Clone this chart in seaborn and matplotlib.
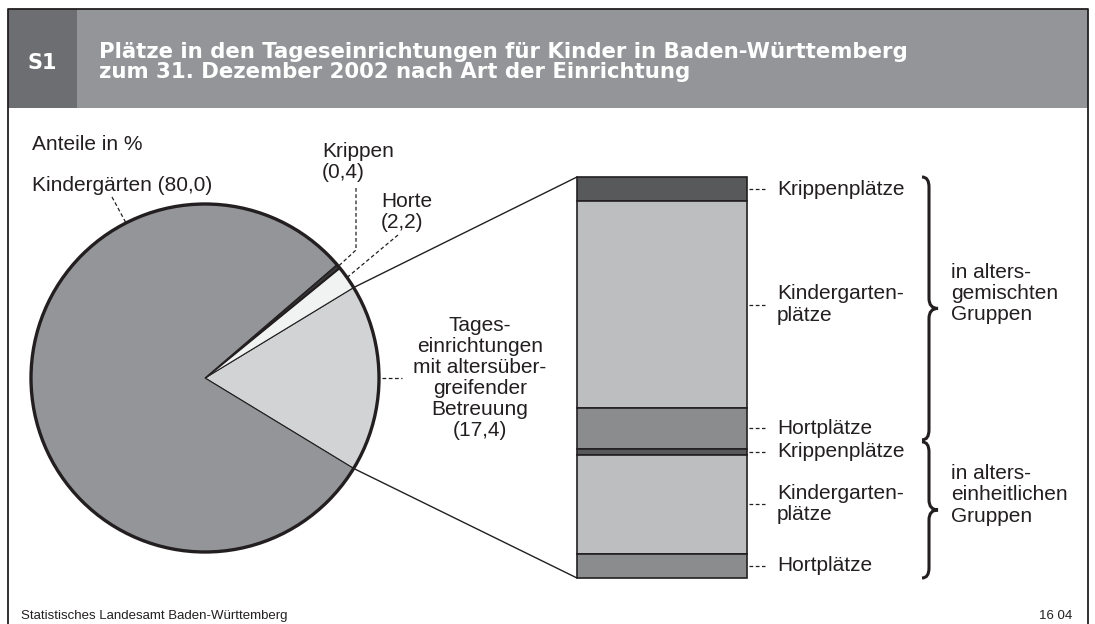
import numpy as np
import matplotlib
matplotlib.use("Agg")
import matplotlib.pyplot as plt
from matplotlib.patches import Rectangle, Circle, PathPatch, ConnectionPatch
from matplotlib.path import Path
import seaborn as sns

# =========================
# Daten
# =========================
title_lines = [
    "Plätze in den Tageseinrichtungen für Kinder in Baden-Württemberg",
    "zum 31. Dezember 2002 nach Art der Einrichtung",
]

# Kreis: Anteile in %
pie_names = ["Tages-\neinrichtungen\nmit altersüber-\ngreifender\nBetreuung", "Horte", "Krippen", "Kindergärten"]
pie_values = [17.4, 2.2, 0.4, 80.0]
pie_colors = ["#d1d3d4", "#f1f2f2", "#3a3a3c", "#939598"]

# Saeule: Aufteilung der altersuebergreifenden Einrichtungen (in %)
bar_labels = ["Krippenplätze", "Kindergarten-\nplätze", "Hortplätze",
              "Krippenplätze", "Kindergarten-\nplätze", "Hortplätze"]
bar_groups = [0, 0, 0, 1, 1, 1]
bar_values = [6.0, 51.6, 10.2, 1.5, 24.7, 6.0]
bar_colors = ["#58595b", "#bcbec0", "#8a8c8e", "#58595b", "#bcbec0", "#8a8c8e"]

group_labels = ["in alters-\ngemischten\nGruppen", "in alters-\neinheitlichen\nGruppen"]


def de(v):
    return f"({v:.1f})".replace(".", ",")


W, H = 1095, 624
DARK = "#231f20"
FS = 15
LS = 1.14

sns.set_theme(style="white")
plt.rcParams["font.family"] = ["Liberation Sans", "DejaVu Sans"]
plt.rcParams["text.color"] = DARK

fig = plt.figure(figsize=(W / 100, H / 100), dpi=100)
ax = fig.add_axes([0, 0, 1, 1])

# =========================
# Kopf und Rahmen
# =========================
ax.add_patch(Rectangle((8, 9), 1080, 99, facecolor="#939598", edgecolor="none"))
ax.add_patch(Rectangle((8, 9), 69, 99, facecolor="#6d6e71", edgecolor="none"))
ax.plot([8, 8, 1088, 1088], [H + 5, 9, 9, H + 5], color=DARK, lw=1.3, clip_on=False)

ax.text(42, 69, "S1", color="white", fontsize=15, fontweight="bold",
        family="DejaVu Sans", ha="center", va="baseline")
for y, line in zip([58.5, 77.5], title_lines):
    ax.text(99, y, line, color="white", fontsize=15.3, fontweight="bold",
            family="DejaVu Sans", ha="left", va="baseline")

# =========================
# Kreis
# =========================
cx, cy, r = 205, 378, 174
wedges, _ = ax.pie(pie_values, colors=pie_colors, startangle=pie_values[0] * 3.6 / 2,
                   counterclock=False, center=(cx, cy), radius=r, frame=True,
                   wedgeprops=dict(edgecolor=DARK, linewidth=0.8))
wedges[2].set_linewidth(1.6)
ax.add_patch(Circle((cx, cy), r, fill=False, edgecolor=DARK, linewidth=2.4, zorder=4))

ax.set_xlim(0, W)
ax.set_ylim(H, 0)
ax.axis("off")


def edge(theta):
    t = np.deg2rad(theta)
    return cx + r * np.cos(t), cy + r * np.sin(t)


def mid(w):
    return (w.theta1 + w.theta2) / 2


dash = dict(color=DARK, lw=0.9, ls=(0, (3, 2)), zorder=3)

ax.text(32, 150, "Anteile in %", fontsize=FS, ha="left", va="baseline")

# Tageseinrichtungen
ex, ey = edge(mid(wedges[0]))
ax.plot([ex + 3, ex + 23], [ey, ey], **dash)
ax.text(480, 378, pie_names[0] + "\n" + de(pie_values[0]), fontsize=FS,
        ha="center", va="center", linespacing=LS)

# Horte
ex, ey = edge(mid(wedges[1]))
ax.plot([398, ex], [235, ey], **dash)
ax.text(381, 212, pie_names[1] + "\n" + de(pie_values[1]), fontsize=FS,
        ha="left", va="center", linespacing=LS)

# Krippen
ex, ey = edge(mid(wedges[2]))
ax.plot([356, 356, ex], [188, 250, ey], **dash)
ax.text(322, 162, pie_names[2] + "\n" + de(pie_values[2]), fontsize=FS,
        ha="left", va="center", linespacing=LS)

# Kindergaerten
ex, ey = edge(-117)
ax.plot([112, ex], [197, ey], **dash)
ax.text(32, 191, pie_names[3] + " " + de(pie_values[3]), fontsize=FS,
        ha="left", va="baseline")

# =========================
# Saeule
# =========================
ax_bar = fig.add_axes([577 / W, 1 - 578 / H, 170 / W, 401 / H])
bottoms = np.concatenate([[0], np.cumsum(bar_values)[:-1]])
for val, b, c in zip(bar_values, bottoms, bar_colors):
    sns.barplot(x=["S"], y=[val], bottom=b, color=c, width=1, saturation=1,
                errorbar=None, edgecolor=DARK, linewidth=1.2, ax=ax_bar)
ax_bar.set_xlim(-0.5, 0.5)
ax_bar.set_ylim(sum(bar_values), 0)
ax_bar.axis("off")
for p in ax_bar.patches:
    p.set_clip_on(False)

centers = bottoms + np.array(bar_values) / 2
for c, lab in zip(centers, bar_labels):
    ax_bar.plot([0.5 + 2 / 170, 0.5 + 18 / 170], [c, c], color=DARK, lw=0.9,
                ls=(0, (3, 2)), clip_on=False)
    ax_bar.text(0.5 + 30 / 170, c, lab, fontsize=FS, ha="left", va="center",
                linespacing=LS)

# Verbindungslinien Kreis -> Saeule
top_pt = edge(wedges[0].theta1)
bot_pt = edge(wedges[0].theta2)
for pa, yb in [(top_pt, 0), (bot_pt, sum(bar_values))]:
    con = ConnectionPatch(xyA=pa, coordsA=ax.transData, xyB=(-0.5, yb),
                          coordsB=ax_bar.transData, color=DARK, lw=1.0)
    fig.add_artist(con)


# Klammern
def bar_y(v):
    disp = ax_bar.transData.transform((0, v))
    return ax.transData.inverted().transform(disp)[1]


def brace(y0, y1, x0=922, xs=929, xt=938, rr=10):
    ym = (y0 + y1) / 2
    verts = [(x0, y0), (xs, y0), (xs, y0 + rr), (xs, ym - rr), (xs, ym), (xt, ym),
             (xs, ym), (xs, ym + rr), (xs, y1 - rr), (xs, y1), (x0, y1)]
    codes = [Path.MOVETO, Path.CURVE3, Path.CURVE3, Path.LINETO, Path.CURVE3, Path.CURVE3,
             Path.CURVE3, Path.CURVE3, Path.LINETO, Path.CURVE3, Path.CURVE3]
    ax.add_patch(PathPatch(Path(verts, codes), fill=False, edgecolor=DARK, lw=2.2))
    return ym


vals = np.array(bar_values)
groups = np.array(bar_groups)
g_end = np.cumsum([vals[groups == g].sum() for g in range(2)])
junction = g_end[0] - 2
spans = [(0, junction - 0.25), (junction + 0.25, g_end[1])]
for (a, b), lab in zip(spans, group_labels):
    ym = brace(bar_y(a), bar_y(b))
    ax.text(951, ym - 15, lab, fontsize=FS, ha="left", va="center", linespacing=LS)

# Fusszeile
ax.text(21, 619, "Statistisches Landesamt Baden-Württemberg", fontsize=9.5,
        ha="left", va="baseline")
ax.text(1072, 619, "16 04", fontsize=9.5, ha="right", va="baseline")

fig.savefig("out.png", dpi=100)
